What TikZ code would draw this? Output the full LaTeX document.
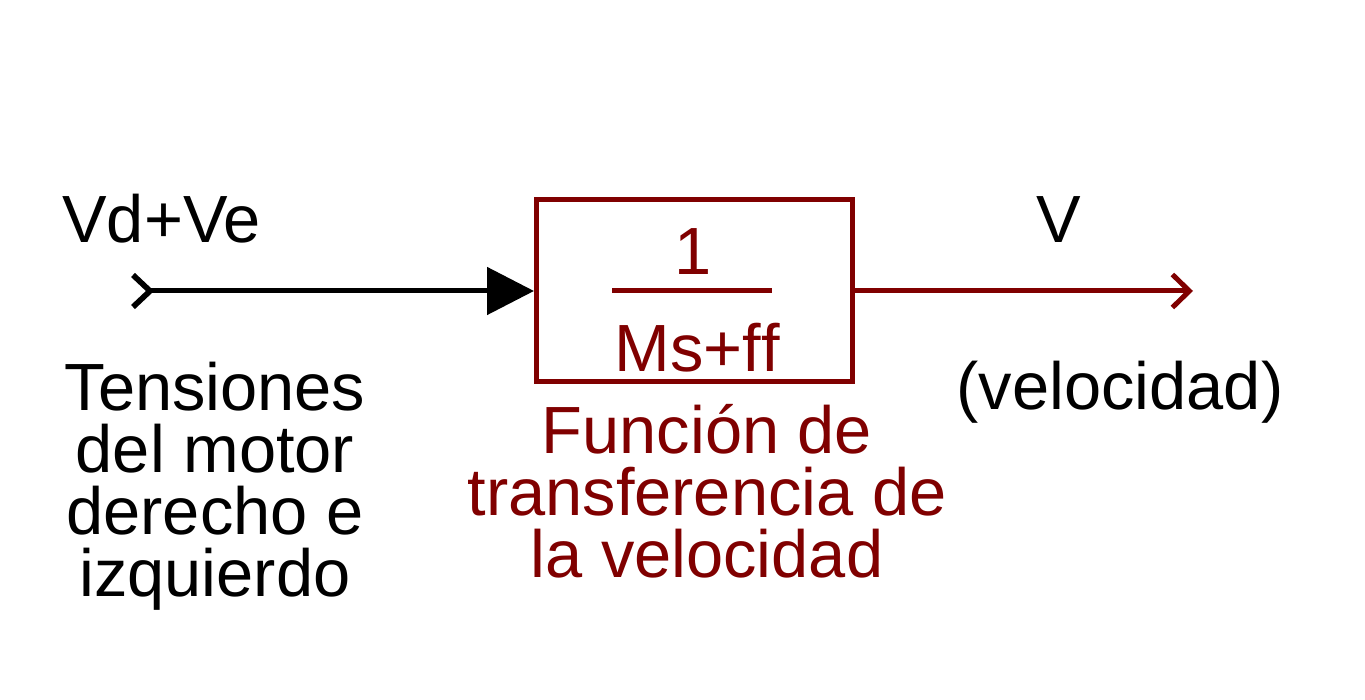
\documentclass[tikz,border=0pt]{standalone}
\usepackage{fontspec}
\setmainfont{Liberation Sans}[Ligatures=NoCommon]
\usetikzlibrary{arrows.meta,positioning}
\definecolor{blockred}{RGB}{128,0,0}
\tikzset{
  lbl/.style={font=\fontsize{38}{35.3}\selectfont, inner sep=0pt, anchor=base},
  sig/.style={line width=2.85pt},
}
\begin{document}
\begin{tikzpicture}
      \useasboundingbox (0,0) rectangle (27.3,14);
      % Transfer function block
      \node[draw=blockred, line width=2.85pt, minimum width=6.32cm, minimum height=3.64cm, inner sep=0pt] (tf) at (13.89,8.18) {};
      \node[lbl, text=blockred] (num) at (13.86,8.5) {1};
      \node[lbl, text=blockred] (den) at (13.94,6.56) {Ms+f\kern0pt f};
      \coordinate (barl) at (12.24,8.18);
      \coordinate (barr) at (15.44,8.18);
      \draw[sig, blockred] (barl) -- (barr);

      % Ports
      \coordinate (in) at (3.0,8.18);
      \coordinate (out) at (23.86,8.18);
      \draw[line width=3.2pt] ([shift={(-0.34,0.32)}]in) -- (in) -- ([shift={(-0.34,-0.32)}]in);

      \draw[sig, -{Triangle[length=0.94cm, width=0.94cm]}] (in) -- (tf.west);
      \draw[sig, blockred, -{Straight Barb[length=0.34cm, width=0.66cm]}] (tf.east) -- (out);

      % Labels
      \node[lbl, anchor=base west] (insig) at (1.24,9.14) {Vd+Ve};
      \node[lbl] (outsig) at (21.18,9.14) {V};
      \node[lbl] (outdesc) at (22.4,5.8) {(velocidad)};
      \node[lbl, align=center] (indesc) at (4.3,2.06) {Tensiones\\del motor\\derecho e\\izquierdo};
      \node[lbl, align=center, text=blockred] (tfdesc) at (14.14,2.44) {Función de\\transferencia de\\la velocidad};
    \end{tikzpicture}
\end{document}
